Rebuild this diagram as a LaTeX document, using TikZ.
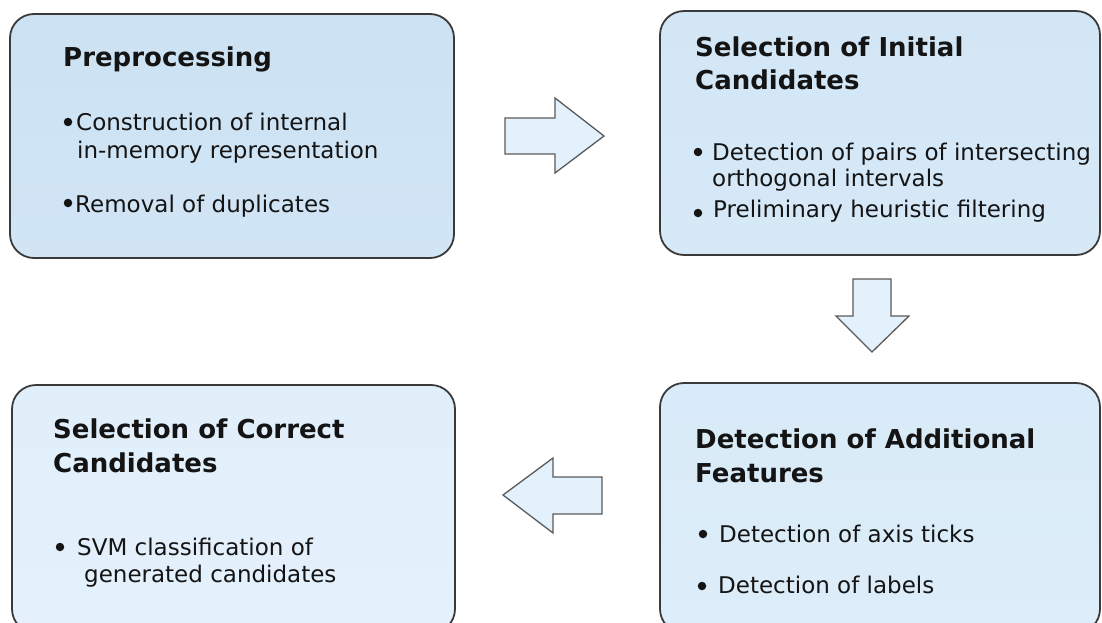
\documentclass[tikz,border=0pt]{standalone}
\usepackage{fontspec}
\setmainfont{DejaVu Sans}
\definecolor{ink}{HTML}{141414}
\definecolor{boxline}{HTML}{3A3A3A}
\definecolor{arrowfill}{HTML}{E3F1FC}
\definecolor{arrowline}{HTML}{5A5A5A}
\definecolor{fillA}{HTML}{CCE2F3}
\definecolor{fillAb}{HTML}{D1E5F5}
\definecolor{fillB}{HTML}{D2E6F6}
\definecolor{fillBb}{HTML}{D7E9F7}
\definecolor{fillC}{HTML}{E1EFFB}
\definecolor{fillCb}{HTML}{E4F1FC}
\definecolor{fillD}{HTML}{D9EAF8}
\definecolor{fillDb}{HTML}{DDEDF9}
\tikzset{
  stagebox/.style={draw=boxline, line width=1.8pt, rounded corners=24pt,
    anchor=north west, inner sep=0, outer sep=0},
  ttl/.style={anchor=base west, inner sep=0, text=ink,
    font=\fontsize{26}{33}\selectfont\bfseries},
  txt/.style={anchor=base west, inner sep=0, text=ink,
    font=\fontsize{23}{27}\selectfont},
  dot/.style={circle, fill=ink, inner sep=0, minimum size=8.5pt},
  blockarrow/.style={draw=arrowline, fill=arrowfill, line width=1.3pt, line join=miter},
}
\begin{document}
\begin{tikzpicture}[x=1pt, y=-1pt]
\useasboundingbox (0,0) rectangle (1102,623);
\clip (0,0) rectangle (1102,623);

% stage boxes
\node[stagebox, top color=fillA, bottom color=fillAb,
      minimum width=444pt, minimum height=244pt] (pre) at (10,14) {};
\node[stagebox, top color=fillB, bottom color=fillBb,
      minimum width=440pt, minimum height=244pt] (init) at (660,11) {};
\node[stagebox, top color=fillC, bottom color=fillCb,
      minimum width=443pt, minimum height=248pt] (corr) at (12,385) {};
\node[stagebox, top color=fillD, bottom color=fillDb,
      minimum width=440pt, minimum height=250pt] (feat) at (660,383) {};

% Preprocessing
\node[ttl] (preT) at (63,67) {Preprocessing};
\node[dot] (preD1) at (68,122) {};
\node[txt] (preL1) at (76,130) {Construction of internal};
\node[txt] (preL2) at (77,158) {in-memory representation};
\node[dot] (preD2) at (68,203) {};
\node[txt] (preL3) at (75,212) {Removal of duplicates};

% Selection of initial candidates
\node[ttl] (initT1) at (695,57) {Selection of Initial};
\node[ttl] (initT2) at (695,90) {Candidates};
\node[dot] (initD1) at (698,152) {};
\node[txt] (initL1) at (712,160) {Detection of pairs of intersecting};
\node[txt] (initL2) at (712,186) {orthogonal intervals};
\node[dot] (initD2) at (698,213) {};
\node[txt] (initL3) at (713,217) {Preliminary heuristic filtering};

% Selection of correct candidates
\node[ttl] (corrT1) at (53,438) {Selection of Correct};
\node[ttl] (corrT2) at (53,472) {Candidates};
\node[dot] (corrD1) at (60,547) {};
\node[txt] (corrL1) at (77,555) {SVM classification of};
\node[txt] (corrL2) at (84,582) {generated candidates};

% Detection of additional features
\node[ttl] (featT1) at (695,448) {Detection of Additional};
\node[ttl] (featT2) at (695,482) {Features};
\node[dot] (featD1) at (703,534) {};
\node[txt] (featL1) at (719,542) {Detection of axis ticks};
\node[dot] (featD2) at (702,586) {};
\node[txt] (featL2) at (718,593) {Detection of labels};

% block arrows between the stages
\draw[blockarrow] (505,118) -- (555,118) -- (555,98) -- (604,136)
  -- (555,173) -- (555,154) -- (505,154) -- cycle;
\draw[blockarrow] (853,279) -- (891,279) -- (891,316) -- (909,316)
  -- (872,352) -- (836,316) -- (853,316) -- cycle;
\draw[blockarrow] (602,477) -- (553,477) -- (553,458) -- (503,495)
  -- (553,533) -- (553,514) -- (602,514) -- cycle;
\end{tikzpicture}
\end{document}
